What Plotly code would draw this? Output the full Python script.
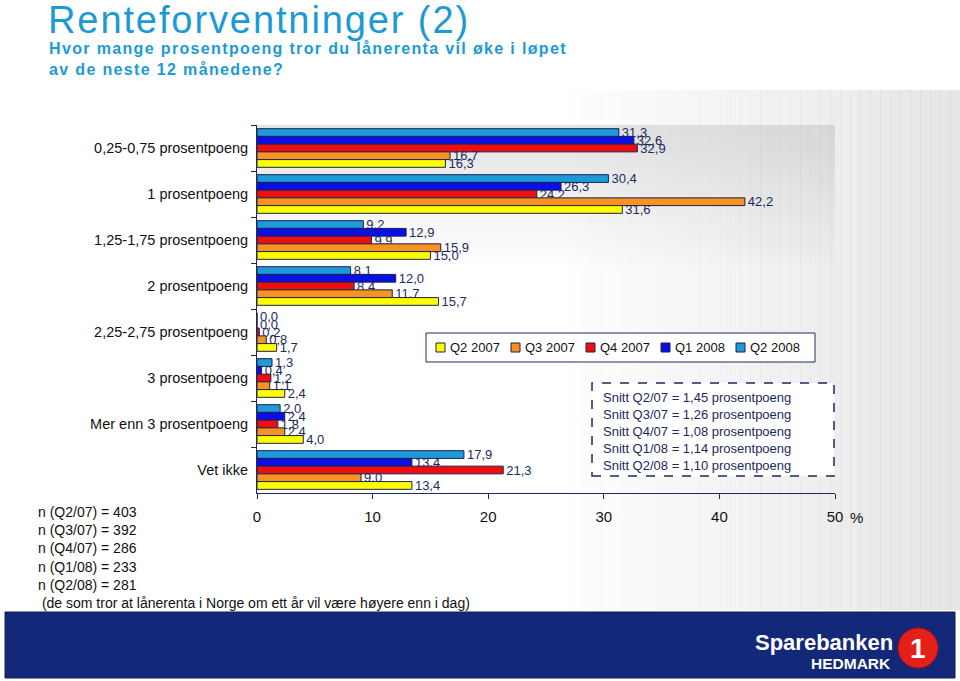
import plotly.graph_objects as go

# ---------------- data ----------------
categories = [
    "0,25-0,75 prosentpoeng",
    "1 prosentpoeng",
    "1,25-1,75 prosentpoeng",
    "2 prosentpoeng",
    "2,25-2,75 prosentpoeng",
    "3 prosentpoeng",
    "Mer enn 3 prosentpoeng",
    "Vet ikke",
]
q2_2008 = [31.3, 30.4, 9.2, 8.1, 0.0, 1.3, 2.0, 17.9]
q1_2008 = [32.6, 26.3, 12.9, 12.0, 0.0, 0.4, 2.4, 13.4]
q4_2007 = [32.9, 24.2, 9.9, 8.4, 0.2, 1.2, 1.8, 21.3]
q3_2007 = [16.7, 42.2, 15.9, 11.7, 0.8, 1.1, 2.4, 9.0]
q2_2007 = [16.3, 31.6, 15.0, 15.7, 1.7, 2.4, 4.0, 13.4]

series_names = ["Q2 2008", "Q1 2008", "Q4 2007", "Q3 2007", "Q2 2007"]
series_values = [q2_2008, q1_2008, q4_2007, q3_2007, q2_2007]
series_colors = ["#1e9ad8", "#0a0fe8", "#f20c0c", "#f7931e", "#ffff00"]

x_ticks = [0, 10, 20, 30, 40, 50]

snitt_lines = [
    "Snitt Q2/07 = 1,45 prosentpoeng",
    "Snitt Q3/07 = 1,26 prosentpoeng",
    "Snitt Q4/07 = 1,08 prosentpoeng",
    "Snitt Q1/08 = 1,14 prosentpoeng",
    "Snitt Q2/08 = 1,10 prosentpoeng",
]
n_lines = [
    "n (Q2/07) = 403",
    "n (Q3/07) = 392",
    "n (Q4/07) = 286",
    "n (Q1/08) = 233",
    "n (Q2/08) = 281",
    " (de som tror at lånerenta i Norge om ett år vil være høyere enn i dag)",
]

# ---------------- layout helpers (pixel -> paper) ----------------
W, H = 960, 681
PL, PR, PT, PB = 257, 835, 125, 493


def px(x):
    return (x - PL) / (PR - PL)


def py(y):
    return (PB - y) / (PB - PT)


NAVY = "#1c2a5e"
BLUE_TXT = "#1b9ad6"
FONT = "Liberation Sans, Arial, sans-serif"

fig = go.Figure()
for name, vals, col in zip(series_names, series_values, series_colors):
    fig.add_trace(go.Bar(
        y=categories,
        x=vals,
        orientation="h",
        name=name,
        marker=dict(color=col, line=dict(color="#1a2050", width=1)),
        text=[f"{v:.1f}".replace(".", ",") for v in vals],
        textposition="outside",
        textfont=dict(family=FONT, size=13, color=NAVY),
        constraintext="none",
        cliponaxis=False,
        showlegend=False,
        hoverinfo="skip",
    ))

shapes = []
# background gradient towards the right
nstrip = 40
for i in range(nstrip):
    x0 = 560 + i * (400 / nstrip)
    x1 = x0 + 400 / nstrip + 0.5
    a = 0.22 * (i + 1) / nstrip
    shapes.append(dict(type="rect", xref="paper", yref="paper",
                       x0=px(x0), x1=px(x1), y0=py(610), y1=py(90),
                       fillcolor=f"rgba(140,140,140,{a:.3f})",
                       line=dict(width=0), layer="below"))
# vertical gradient at top of plot area
for i in range(14):
    y0 = PT + i * 10
    a = 0.25 * (1 - i / 14)
    shapes.append(dict(type="rect", xref="paper", yref="paper",
                       x0=px(PL), x1=px(PR), y0=py(y0 + 10), y1=py(y0),
                       fillcolor=f"rgba(150,150,150,{a:.3f})",
                       line=dict(width=0), layer="below"))
# snitt box
shapes.append(dict(type="rect", xref="paper", yref="paper",
                   x0=px(592), x1=px(834), y0=py(476), y1=py(383),
                   fillcolor="white", line=dict(color=NAVY, width=1.5, dash="dash"),
                   layer="below"))
# legend box
LEG_X0, LEG_X1, LEG_Y0, LEG_Y1 = 426, 815, 333, 362
shapes.append(dict(type="rect", xref="paper", yref="paper",
                   x0=px(LEG_X0), x1=px(LEG_X1), y0=py(LEG_Y1), y1=py(LEG_Y0),
                   fillcolor="white", line=dict(color=NAVY, width=1)))
# footer band
shapes.append(dict(type="rect", xref="paper", yref="paper",
                   x0=px(5), x1=px(955), y0=py(678), y1=py(612),
                   fillcolor="#14287a", line=dict(color="#0e1d5c", width=1)))
# logo circle
shapes.append(dict(type="circle", xref="paper", yref="paper",
                   x0=px(898), x1=px(938), y0=py(668), y1=py(628),
                   fillcolor="#e4201b", line=dict(color="#b01010", width=1)))

annotations = [
    dict(text='<span style="letter-spacing:1.9px">Renteforventninger (2)</span>',
         xref="paper", yref="paper",
         x=px(46), y=py(20), xanchor="left", yanchor="middle", showarrow=False,
         font=dict(family=FONT, size=38, color=BLUE_TXT)),
    dict(text='<span style="letter-spacing:1.35px"><b>Hvor mange prosentpoeng tror du lånerenta vil øke i løpet'
              '<br>av de neste 12 månedene?</b></span>',
         xref="paper", yref="paper", x=px(47), y=py(38), xanchor="left", yanchor="top",
         showarrow=False, align="left",
         font=dict(family=FONT, size=16, color=BLUE_TXT)),
    dict(text="<br>".join(snitt_lines), xref="paper", yref="paper",
         x=px(601), y=py(388), xanchor="left", yanchor="top", showarrow=False,
         align="left", font=dict(family=FONT, size=13, color=NAVY)),
    dict(text="<br>".join(n_lines), xref="paper", yref="paper",
         x=px(36), y=py(502), xanchor="left", yanchor="top", showarrow=False,
         align="left", font=dict(family=FONT, size=14, color="#111111")),
    dict(text="%", xref="paper", yref="paper", x=px(848), y=py(517),
         xanchor="left", yanchor="middle", showarrow=False,
         font=dict(family=FONT, size=15, color="#111111")),
    dict(text="<b>Sparebanken</b>", xref="paper", yref="paper", x=px(895), y=py(642),
         xanchor="right", yanchor="middle", showarrow=False,
         font=dict(family=FONT, size=22, color="white")),
    dict(text="<b>HEDMARK</b>", xref="paper", yref="paper", x=px(893), y=py(663),
         xanchor="right", yanchor="middle", showarrow=False,
         font=dict(family=FONT, size=15.5, color="white")),
    dict(text="<b>1</b>", xref="paper", yref="paper", x=px(918), y=py(648),
         xanchor="center", yanchor="middle", showarrow=False,
         font=dict(family=FONT, size=28, color="white")),
]

# manual legend (Q2 2007 first, as in the reference)
leg_order = list(zip(series_names, series_colors))[::-1]
for i, (name, col) in enumerate(leg_order):
    sx = 436 + i * 75
    shapes.append(dict(type="rect", xref="paper", yref="paper",
                       x0=px(sx), x1=px(sx + 9), y0=py(352), y1=py(343),
                       fillcolor=col, line=dict(color="#1a2050", width=1)))
    annotations.append(dict(text=name, xref="paper", yref="paper",
                            x=px(sx + 12), y=py(347.5), xanchor="left", yanchor="middle",
                            showarrow=False,
                            font=dict(family=FONT, size=13, color="#111111")))

fig.update_layout(
    width=W, height=H,
    margin=dict(l=PL, r=W - PR, t=PT, b=H - PB, pad=0),
    paper_bgcolor="white",
    plot_bgcolor="rgba(0,0,0,0)",
    barmode="group",
    bargap=0.16,
    bargroupgap=0,
    font=dict(family=FONT, size=14, color="#111111"),
    showlegend=False,
    xaxis=dict(
        range=[0, 50], tickvals=x_ticks, ticktext=[str(t) for t in x_ticks],
        showgrid=False, zeroline=False, showline=True, linecolor=NAVY, linewidth=1,
        ticks="outside", ticklen=5, tickcolor=NAVY, ticklabelstandoff=5,
        tickfont=dict(family=FONT, size=15, color="#111111"),
    ),
    yaxis=dict(
        categoryorder="array", categoryarray=categories, autorange="reversed",
        showgrid=False, zeroline=False, showline=True, linecolor=NAVY, linewidth=1,
        ticks="outside", ticklen=5, tickcolor=NAVY, tickson="boundaries",
        ticklabelstandoff=5,
        tickfont=dict(family=FONT, size=14.5, color="#111111"),
    ),
    shapes=shapes,
    annotations=annotations,
)

fig.write_html(
    "out.html",
    config={"displayModeBar": False},
    post_script="document.body.style.margin='0';document.body.style.overflow='hidden';",
)
